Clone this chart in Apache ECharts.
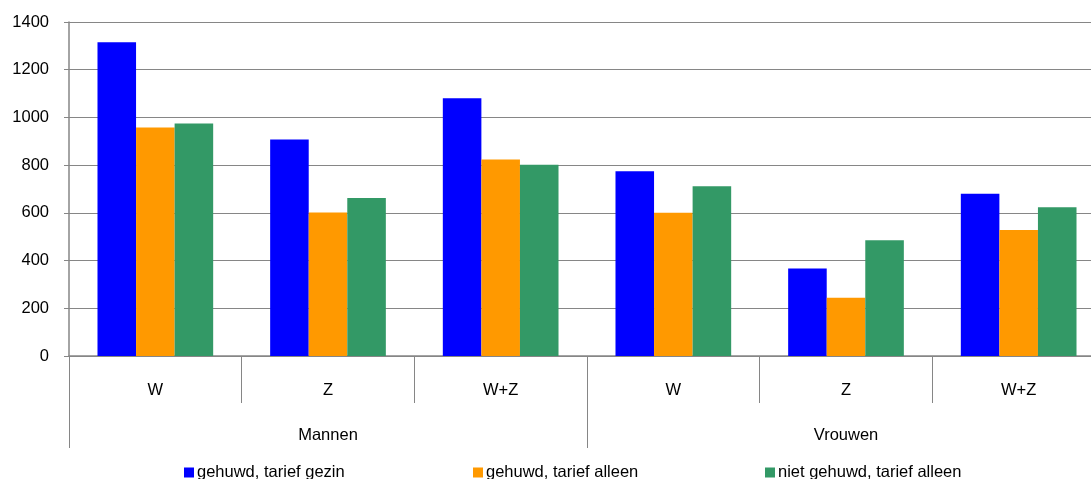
<!DOCTYPE html>
<html>
<head>
<meta charset="utf-8">
<script src="https://cdn.jsdelivr.net/npm/echarts@6/dist/echarts.min.js"></script>
<style>
  html, body { margin: 0; padding: 0; background: #fff; overflow: hidden; }
  #chart { width: 1105px; height: 479px; }
</style>
</head>
<body>
<div id="chart"></div>
<script>
// Sub-categories (inner axis level) and groups (outer axis level)
const categories = ['W', 'Z', 'W+Z', 'W', 'Z', 'W+Z'];
const groups = ['Mannen', 'Vrouwen'];

// Series values per sub-category
const gehuwdGezin = [1315, 908, 1080, 774, 367, 680];
const gehuwdAlleen = [958, 602, 824, 600, 244, 528];
const nietGehuwdAlleen = [975, 662, 802, 712, 485, 623];

const seriesNames = ['gehuwd, tarief gezin', 'gehuwd, tarief alleen', 'niet gehuwd, tarief alleen'];
const seriesColors = ['#0000FF', '#FF9900', '#339966'];

// Y-axis ticks
const yMin = 0, yMax = 1400, yStep = 200;

const FONT = 'Liberation Sans, Arial, sans-serif';
const GRAY = '#868686';

const chart = echarts.init(document.getElementById('chart'), null, { renderer: 'canvas' });

function legendFor(i, left) {
  return {
    data: [seriesNames[i]],
    left: left,
    top: 464,
    icon: 'rect',
    itemWidth: 10,
    itemHeight: 10,
    itemGap: 0,
    padding: 0,
    textStyle: { fontFamily: FONT, fontSize: 16.5, color: '#000', padding: [2, 0, 0, -2] }
  };
}

const seriesData = [gehuwdGezin, gehuwdAlleen, nietGehuwdAlleen];

chart.setOption({
  animation: false,
  backgroundColor: '#fff',
  grid: { left: 69, right: 0, top: 22, bottom: 123, containLabel: false },
  legend: [legendFor(0, 184), legendFor(1, 473), legendFor(2, 765)],
  xAxis: [
    {
      type: 'category',
      data: categories,
      position: 'bottom',
      axisLine: { show: true, lineStyle: { color: GRAY, width: 1.5 } },
      axisTick: { show: true, length: 47, lineStyle: { color: GRAY, width: 1 } },
      axisLabel: { margin: 26, fontFamily: FONT, fontSize: 16.5, color: '#000' },
      splitLine: { show: false }
    },
    {
      type: 'category',
      data: groups,
      position: 'bottom',
      axisLine: { show: false },
      axisTick: { show: true, length: 92, lineStyle: { color: GRAY, width: 1 } },
      axisLabel: { margin: 71, fontFamily: FONT, fontSize: 16.5, color: '#000' },
      splitLine: { show: false }
    }
  ],
  yAxis: {
    type: 'value',
    min: yMin,
    max: yMax,
    interval: yStep,
    axisLine: { show: true, lineStyle: { color: GRAY, width: 1.5 } },
    axisTick: { show: true, length: 5, lineStyle: { color: GRAY } },
    axisLabel: {
      margin: 20, fontFamily: FONT, fontSize: 16.5, color: '#000',
      padding: [5, 0, 0, 0],
      formatter: v => String(v)
    },
    splitLine: { show: true, lineStyle: { color: GRAY, width: 1.2 } }
  },
  series: seriesData.map((d, i) => ({
    name: seriesNames[i],
    type: 'bar',
    xAxisIndex: 0,
    data: d,
    barGap: '0%',
    barCategoryGap: '33%',
    itemStyle: { color: seriesColors[i] }
  }))
});
</script>
</body>
</html>
